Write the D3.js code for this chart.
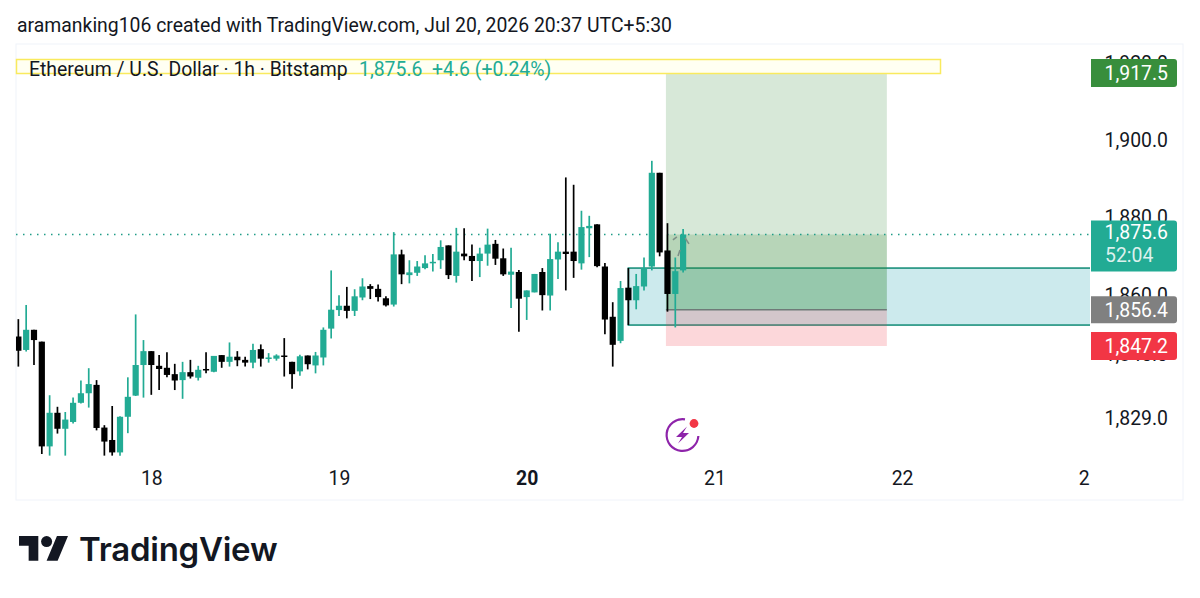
<!DOCTYPE html>
<html>
<head>
<meta charset="utf-8">
<script src="https://cdn.jsdelivr.net/npm/d3@7"></script>
<style>
  html, body { margin: 0; padding: 0; background: #fff; }
  svg { display: block; }
  text { font-family: Roboto, sans-serif; }
</style>
</head>
<body>
<div id="chart"></div>
<script>
// --- Hourly candles, first one is Jul 17 07:00, hour 0 is Jul 18 00:00
var firstHour = -17;
var opens = [1849.6,1846.2,1851.3,1848.3,1822.0,1830.4,1826.4,1828.1,1832.9,1835.3,1837.4,1826.7,1823.6,1820.5,1829.4,1834.7,1842.4,
  1845.9,1842.2,1841.7,1840.1,1838.6,1840.6,1839.2,1841.4,1840.7,1844.9,1843.2,1844.5,1843.7,1843.0,1846.4,1844.0,1844.0,1844.8,
  1843.2,1840.8,1844.8,1842.3,1844.3,1851.6,1856.3,1857.4,1856.1,1859.5,1862.4,1861.7,1859.3,1857.7,1870.5,1865.2,1865.8,1867.0,
  1868.4,1869.0,1872.8,1865.0,1870.7,1870.1,1868.8,1870.7,1873.2,1869.5,1865.3,1866.0,1859.6,1860.8,1866.0,1860.0,1869.2,1871.2,
  1871.2,1868.2,1877.2,1878.2,1867.4,1854.6,1848.5,1862.0,1858.8,1862.3,1867.4,1891.5,1871.5,1860.4,1866.4];
var highs = [1854.0,1857.6,1851.3,1848.3,1834.8,1831.9,1830.6,1834.2,1838.5,1841.6,1838.6,1827.3,1832.1,1829.5,1839.3,1855.2,1848.7,
  1845.9,1844.9,1845.6,1842.7,1843.2,1843.7,1842.2,1845.6,1844.7,1844.9,1848.1,1845.9,1844.5,1847.8,1847.6,1845.4,1845.1,1849.2,
  1843.2,1845.0,1844.8,1845.7,1851.9,1866.4,1860.1,1862.2,1861.6,1864.4,1862.9,1862.8,1859.8,1876.2,1871.7,1869.0,1868.8,1870.3,
  1870.6,1874.1,1872.8,1877.3,1877.2,1873.0,1872.2,1877.1,1874.2,1872.0,1872.2,1866.5,1861.3,1865.5,1867.0,1875.8,1873.6,1890.3,
  1888.4,1881.7,1880.4,1878.2,1868.3,1858.3,1863.7,1867.0,1865.5,1869.7,1894.6,1891.5,1878.5,1869.7,1877.0];
var lows = [1842.0,1845.8,1842.4,1820.1,1819.7,1825.2,1819.7,1827.7,1832.7,1831.7,1826.0,1819.7,1819.7,1819.7,1825.3,1834.6,1834.2,
  1834.9,1836.1,1839.3,1836.1,1833.9,1839.0,1838.5,1840.3,1840.6,1841.7,1842.0,1842.1,1842.0,1841.6,1842.0,1843.0,1843.5,1839.5,
  1836.4,1839.7,1841.3,1840.3,1842.3,1849.1,1854.8,1854.2,1854.8,1858.8,1859.1,1858.5,1857.2,1857.2,1862.9,1863.1,1865.0,1866.7,
  1866.1,1866.8,1864.2,1863.3,1869.0,1863.7,1864.7,1867.6,1867.8,1865.0,1856.8,1850.8,1853.8,1860.8,1856.2,1856.2,1864.2,1861.3,
  1864.5,1866.6,1869.8,1867.2,1850.2,1842.0,1847.9,1852.5,1856.5,1861.3,1866.4,1870.0,1855.9,1851.9,1865.9];
var closes = [1846.0,1851.3,1848.7,1822.0,1830.4,1826.4,1828.7,1832.9,1835.3,1837.6,1826.6,1823.2,1820.5,1829.4,1834.4,1842.4,1845.9,
  1842.4,1841.4,1839.9,1838.5,1840.6,1839.5,1841.2,1841.1,1844.7,1843.2,1844.5,1843.6,1843.0,1846.2,1844.0,1844.3,1844.8,1844.5,
  1840.1,1844.6,1842.6,1844.8,1851.3,1856.4,1857.4,1856.1,1859.8,1862.3,1861.7,1859.6,1857.5,1870.5,1865.4,1865.9,1867.4,1868.2,
  1868.6,1872.4,1865.2,1871.2,1870.0,1868.8,1870.7,1873.0,1869.4,1865.4,1866.1,1859.2,1861.3,1865.5,1860.1,1869.3,1871.2,1870.6,
  1868.8,1877.5,1877.8,1867.5,1853.9,1847.5,1861.9,1858.8,1862.4,1867.0,1891.5,1871.0,1860.4,1866.2,1875.6];

// --- Axes
var priceTicks = [1829, 1845, 1860, 1880, 1900, 1920];
var dayHours = [0, 24, 48, 72, 96, 120];
var dayLabels = ['18', '19', '20', '21', '22', '2'];

// --- Drawings on the chart
var lastPrice = 1875.6;
var targetPrice = 1917.5;
var entryPrice = 1856.4;
var stopPrice = 1847.2;
var positionHours = [65.8, 94.05];
var boxHours = [61, 125];
var boxPrices = [1867.0, 1852.5];
var arrowDashes = [
  [[66.7, 1874.2], [67.2, 1875.0]],
  [[68.25, 1874.7], [68.75, 1873.2]],
  [[67.35, 1870.1], [67.6, 1871.6]]
];

var width = 1200, height = 598;
var plotLeft = 16, plotRight = 1090, plotTop = 44, plotBottom = 500, frameRight = 1183;
var fontSize = 19.4;

var svg = d3.select('#chart').append('svg')
  .attr('width', width)
  .attr('height', height);

var x = d3.scaleLinear().domain([0, 24]).range([151.3, 339]);
var y = d3.scaleLog().domain([targetPrice, stopPrice]).range([73, 346]);

var GREEN = '#22ab94';
var BLACK = '#000';

// --- Frame
svg.append('rect')
  .attr('x', plotLeft).attr('y', plotTop)
  .attr('width', frameRight - plotLeft).attr('height', plotBottom - plotTop)
  .attr('fill', '#fff').attr('stroke', '#f0f3fa').attr('stroke-width', 1);

svg.append('text')
  .attr('x', 17).attr('y', 32)
  .attr('font-size', fontSize).attr('fill', '#131722')
  .text('aramanking106 created with TradingView.com, Jul 20, 2026 20:37 UTC+5:30');

svg.append('defs').append('clipPath').attr('id', 'plot')
  .append('rect')
  .attr('x', plotLeft).attr('y', plotTop)
  .attr('width', plotRight - plotLeft).attr('height', plotBottom - plotTop);

var plot = svg.append('g').attr('clip-path', 'url(#plot)');

// --- Rectangle
plot.append('rect')
  .attr('x', x(boxHours[0]))
  .attr('y', y(boxPrices[0]))
  .attr('width', x(boxHours[1]) - x(boxHours[0]))
  .attr('height', y(boxPrices[1]) - y(boxPrices[0]))
  .attr('fill', 'rgba(0,151,167,0.2)')
  .attr('stroke', '#1c917d').attr('stroke-width', 1.6);

// --- Long position
function band(top, bottom, fill) {
  plot.append('rect')
    .attr('x', x(positionHours[0]))
    .attr('y', y(top))
    .attr('width', x(positionHours[1]) - x(positionHours[0]))
    .attr('height', y(bottom) - y(top))
    .attr('fill', fill);
}
band(targetPrice, entryPrice, 'rgba(56,142,60,0.2)');
band(lastPrice, entryPrice, 'rgba(56,142,60,0.2)');
band(entryPrice, stopPrice, 'rgba(242,54,69,0.2)');

plot.append('line')
  .attr('x1', x(positionHours[0])).attr('x2', x(positionHours[1]))
  .attr('y1', y(entryPrice)).attr('y2', y(entryPrice))
  .attr('stroke', '#6f7a78').attr('stroke-width', 1.5);

// --- Last price line
plot.append('line')
  .attr('x1', plotLeft).attr('x2', plotRight)
  .attr('y1', y(lastPrice)).attr('y2', y(lastPrice))
  .attr('stroke', '#1f9c87').attr('stroke-width', 1.5)
  .attr('stroke-dasharray', '1.5 5.5');

// --- Candles
var candles = d3.range(opens.length).map(function(i) {
  return { hour: firstHour + i, open: opens[i], high: highs[i], low: lows[i], close: closes[i] };
});

var candle = plot.selectAll('.candle').data(candles).enter()
  .append('g')
  .attr('class', 'candle')
  .attr('fill', function(d) { return d.close >= d.open ? GREEN : BLACK; })
  .attr('stroke', function(d) { return d.close >= d.open ? GREEN : BLACK; });

candle.append('line')
  .attr('x1', function(d) { return x(d.hour); })
  .attr('x2', function(d) { return x(d.hour); })
  .attr('y1', function(d) { return y(d.high); })
  .attr('y2', function(d) { return y(d.low); })
  .attr('stroke-width', 1.7);

candle.append('rect')
  .attr('x', function(d) { return x(d.hour) - 3.1; })
  .attr('y', function(d) { return y(Math.max(d.open, d.close)); })
  .attr('width', 6.2)
  .attr('height', function(d) { return Math.max(1.5, Math.abs(y(d.open) - y(d.close))); })
  .attr('stroke', 'none');

// --- Small dashed arrow over the last candle
var arrowLine = d3.line()
  .x(function(d) { return x(d[0]); })
  .y(function(d) { return y(d[1]); });

plot.selectAll('.arrow').data(arrowDashes).enter()
  .append('path')
  .attr('class', 'arrow')
  .attr('d', arrowLine)
  .attr('fill', 'none').attr('stroke', '#7d9088').attr('stroke-width', 1.6);

// --- Time axis
var xAxis = d3.axisBottom(x)
  .tickValues(dayHours)
  .tickSize(0)
  .tickFormat(function(d, i) { return dayLabels[i]; });

var xg = svg.append('g')
  .attr('transform', 'translate(0,' + 470 + ')')
  .call(xAxis);
xg.select('.domain').remove();
xg.selectAll('text')
  .attr('y', 0).attr('dy', '0.32em')
  .attr('dx', function(d) { return d === 120 ? -6 : 0; })
  .attr('fill', '#131722')
  .style('font-family', 'Roboto, sans-serif')
  .style('font-size', fontSize + 'px')
  .style('font-weight', function(d) { return d === 48 ? 700 : 400; });
xg.selectAll('text').attr('transform', 'translate(0,9)');

// --- Price axis
var yAxis = d3.axisRight(y)
  .tickValues(priceTicks)
  .tickSize(0)
  .tickFormat(d3.format(',.1f'));

var yg = svg.append('g')
  .attr('transform', 'translate(1168,0)')
  .call(yAxis);
yg.select('.domain').remove();
yg.selectAll('text')
  .attr('x', 0).attr('text-anchor', 'end')
  .attr('fill', '#131722')
  .style('font-family', 'Roboto, sans-serif')
  .style('font-size', fontSize + 'px');

// --- Price labels
var pills = [
  { price: targetPrice, color: '#388e3c', h: 28, text: '1,917.5' },
  { price: entryPrice, color: '#808080', h: 27, text: '1,856.4' },
  { price: stopPrice, color: '#f23645', h: 28, text: '1,847.2' }
];

function pillPath(px, py, w, h) {
  var r = 3;
  return 'M' + px + ',' + py + 'h' + (w - r) + 'a' + r + ',' + r + ' 0 0 1 ' + r + ',' + r +
    'v' + (h - 2 * r) + 'a' + r + ',' + r + ' 0 0 1 ' + (-r) + ',' + r + 'h' + (r - w) + 'z';
}

pills.forEach(function(p) {
  var cy = y(p.price);
  svg.append('path')
    .attr('d', pillPath(1091, cy - p.h / 2, 86, p.h))
    .attr('fill', p.color);
  svg.append('text')
    .attr('x', 1168).attr('y', cy).attr('dy', '0.36em')
    .attr('text-anchor', 'end').attr('font-size', fontSize).attr('fill', '#fff')
    .text(p.text);
});

svg.append('path')
  .attr('d', pillPath(1091, y(lastPrice) - 14, 86, 51))
  .attr('fill', GREEN);
svg.append('text')
  .attr('x', 1168).attr('y', y(lastPrice) - 2).attr('dy', '0.36em')
  .attr('text-anchor', 'end').attr('font-size', fontSize).attr('fill', '#fff')
  .text('1,875.6');
svg.append('text')
  .attr('x', 1105).attr('y', y(lastPrice) + 21).attr('dy', '0.36em')
  .attr('font-size', fontSize).attr('fill', '#fff').attr('fill-opacity', 0.85)
  .text('52:04');

// --- Legend strip
svg.append('rect')
  .attr('x', 16.5).attr('y', 59.5).attr('width', 924).attr('height', 14)
  .attr('fill', '#fffff2').attr('stroke', '#f9ea5e').attr('stroke-width', 1.5);
svg.append('text')
  .attr('x', 29).attr('y', 75.5)
  .attr('font-size', fontSize).attr('fill', '#131722')
  .text('Ethereum / U.S. Dollar · 1h · Bitstamp');
svg.append('text')
  .attr('x', 359).attr('y', 75.5)
  .attr('font-size', fontSize).attr('fill', GREEN)
  .style('white-space', 'pre')
  .text('1,875.6  +4.6 (+0.24%)');

// --- Lightning badge
var badge = svg.append('g').attr('transform', 'translate(682.5,435)');
var ring = d3.arc().innerRadius(14.8).outerRadius(17)
  .startAngle(Math.PI * 0.52).endAngle(Math.PI * 2.05);
badge.append('path').attr('d', ring()).attr('fill', '#8e24aa');
badge.append('path')
  .attr('d', 'M4.5,-8.5 L-6.5,2 H-0.5 L-4.5,8.5 L6.5,-2 H0.5 Z')
  .attr('fill', '#8e24aa');
badge.append('circle')
  .attr('cx', 11.5).attr('cy', -11.5).attr('r', 4.4)
  .attr('fill', '#f23645');

// --- TradingView logo
var logo = svg.append('g').attr('transform', 'translate(19,530.5) scale(1.38)').attr('fill', '#131722');
logo.append('path').attr('d', 'M14 22H7V11H0V4h14v18zM28 22h-8l7.5-18h8L28 22z');
logo.append('circle').attr('cx', 20).attr('cy', 8).attr('r', 4);
svg.append('text')
  .attr('x', 79).attr('y', 561)
  .attr('font-size', 33).attr('font-weight', 600).attr('fill', '#131722')
  .attr('letter-spacing', -0.25)
  .style('font-family', 'Inter, sans-serif')
  .text('TradingView');
</script>
</body>
</html>
